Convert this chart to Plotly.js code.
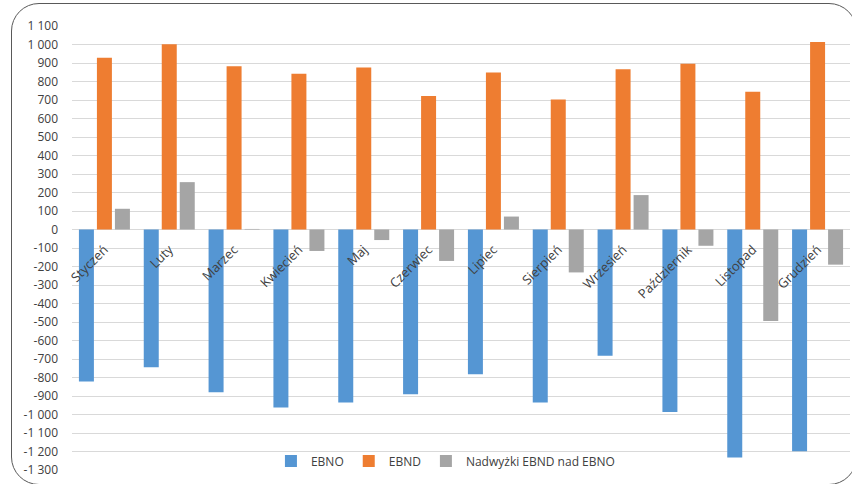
<!DOCTYPE html>
<html>
<head>
<meta charset="utf-8">
<script src="https://cdn.plot.ly/plotly-3.0.1.min.js"></script>
<style>
  html, body { margin: 0; padding: 0; background: #ffffff; }
  #wrap { position: relative; width: 852px; height: 484px; overflow: hidden; }
  #chart { position: absolute; left: 0; top: 0; width: 852px; height: 484px; }
  #frame { position: absolute; left: 11px; top: 3px; width: 846px; height: 482px;
           box-sizing: border-box; border: 1.5px solid #595959; border-radius: 28px;
           pointer-events: none; }
</style>
</head>
<body>
<div id="wrap">
  <div id="chart"></div>
  <div id="frame"></div>
</div>
<script>
const months = ['Styczeń','Luty','Marzec','Kwiecień','Maj','Czerwiec','Lipiec','Sierpień','Wrzesień','Październik','Listopad','Grudzień'];
const ebno = [-822, -745, -880, -962, -935, -890, -783, -935, -683, -987, -1233, -1198];
const ebnd = [928, 1002, 883, 842, 876, 721, 849, 703, 866, 896, 744, 1013];
const nadwyzki = [112, 256, 3, -116, -57, -170, 70, -232, 186, -88, -495, -190];

const yTickVals = [1100, 1000, 900, 800, 700, 600, 500, 400, 300, 200, 100, 0, -100, -200, -300, -400, -500, -600, -700, -800, -900, -1000, -1100, -1200, -1300];
const yTickText = ['1 100', '1 000', '900', '800', '700', '600', '500', '400', '300', '200', '100', '0', '-100', '-200', '-300', '-400', '-500', '-600', '-700', '-800', '-900', '-1 000', '-1 100', '-1 200', '-1 300'];

const seriesNames = ['EBNO', 'EBND', 'Nadwyżki EBND nad EBNO'];
const seriesColors = ['#5596d3', '#ee7d31', '#a5a5a5'];

const yMin = -1300, yMax = 1100;
const font = 'Open Sans, Noto Sans, sans-serif';

const traces = [ebno, ebnd, nadwyzki].map((vals, i) => ({
  type: 'bar',
  name: seriesNames[i],
  x: months,
  y: vals,
  marker: { color: seriesColors[i], line: { width: 0 } },
  hoverinfo: 'x+y+name'
}));

const layout = {
  width: 852,
  height: 484,
  margin: { l: 72, r: 2, t: 26, b: 14, pad: 0 },
  paper_bgcolor: 'rgba(0,0,0,0)',
  plot_bgcolor: 'rgba(0,0,0,0)',
  barmode: 'group',
  bargap: 0.167,
  bargroupgap: 0.167,
  font: { family: font, size: 12, color: '#404040' },
  showlegend: true,
  legend: {
    orientation: 'h',
    x: 0.48, xanchor: 'center',
    y: 0.02, yanchor: 'middle',
    bgcolor: 'rgba(0,0,0,0)',
    font: { family: font, size: 12, color: '#404040' },
    itemwidth: 30,
    traceorder: 'normal'
  },
  xaxis: {
    type: 'category',
    anchor: 'free',
    position: (0 - yMin) / (yMax - yMin),
    showgrid: false,
    showline: false,
    zeroline: false,
    ticks: '',
    tickangle: -45,
    ticklabelstandoff: 9,
    tickfont: { family: font, size: 13, color: '#404040' },
    automargin: false,
    fixedrange: true
  },
  yaxis: {
    range: [yMin, yMax],
    domain: [0, 1],
    tickmode: 'array',
    tickvals: yTickVals,
    ticktext: yTickText,
    showgrid: true,
    gridcolor: '#d9d9d9',
    gridwidth: 1,
    zeroline: true,
    zerolinecolor: '#d9d9d9',
    zerolinewidth: 1,
    showline: false,
    ticks: '',
    ticklabelstandoff: 13,
    tickfont: { family: font, size: 12, color: '#404040' },
    automargin: false,
    fixedrange: true
  }
};

Plotly.newPlot('chart', traces, layout, { displayModeBar: false, staticPlot: true });
</script>
</body>
</html>
